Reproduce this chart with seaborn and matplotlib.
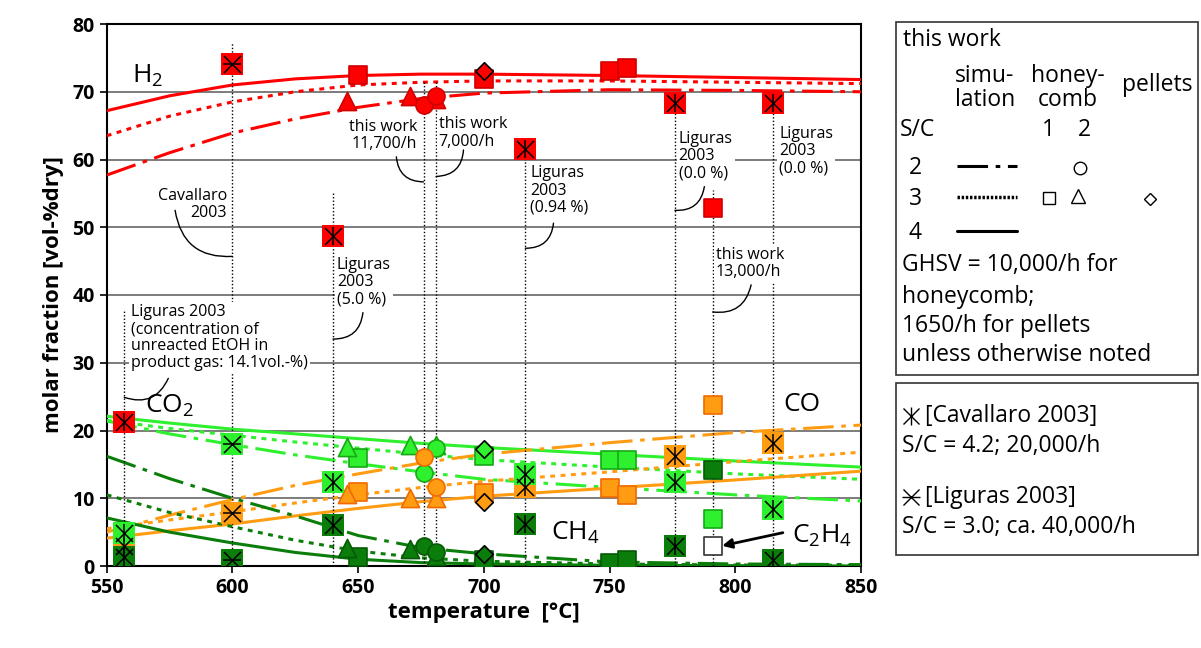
import matplotlib
matplotlib.use('Agg')
import matplotlib.pyplot as plt
import seaborn as sns
from matplotlib.lines import Line2D
from matplotlib.patches import Rectangle

sns.set_theme(style='ticks')
plt.rcParams['font.family'] = ['Open Sans', 'DejaVu Sans']
plt.rcParams['mathtext.default'] = 'regular'
plt.rcParams['text.color'] = 'black'
plt.rcParams['axes.labelcolor'] = 'black'

# --- simulation (this work), S/C = 2, 3, 4 ---
sim_T = [550, 575, 600, 625, 650, 675, 700, 750, 800, 850]
h2_sc2 = [57.7, 61.0, 63.9, 66.0, 67.7, 69.0, 69.8, 70.3, 70.2, 70.0]
h2_sc3 = [63.5, 66.4, 68.5, 70.0, 71.0, 71.4, 71.6, 71.6, 71.4, 71.2]
h2_sc4 = [67.2, 69.4, 71.0, 71.9, 72.4, 72.6, 72.6, 72.4, 72.1, 71.8]
co2_sc2 = [21.4, 19.5, 17.9, 16.4, 15.1, 13.9, 12.8, 11.6, 10.5, 9.6]
co2_sc3 = [21.5, 20.3, 19.3, 18.3, 17.4, 16.5, 15.7, 14.6, 13.6, 12.8]
co2_sc4 = [22.1, 21.1, 20.2, 19.5, 18.8, 18.1, 17.5, 16.5, 15.5, 14.6]
co_sc2 = [5.0, 7.5, 9.8, 11.9, 13.6, 15.2, 16.5, 18.2, 19.7, 20.8]
co_sc3 = [5.5, 6.8, 8.0, 9.3, 10.5, 11.6, 12.5, 13.9, 15.4, 16.8]
co_sc4 = [4.1, 5.2, 6.2, 7.4, 8.5, 9.5, 10.3, 11.5, 12.7, 14.0]
ch4_sc2 = [16.2, 12.9, 10.0, 7.4, 4.5, 2.7, 1.8, 0.6, 0.3, 0.2]
ch4_sc3 = [10.5, 7.9, 5.8, 3.8, 2.2, 1.2, 0.7, 0.3, 0.15, 0.1]
ch4_sc4 = [7.1, 5.0, 3.4, 2.0, 1.0, 0.5, 0.3, 0.1, 0.05, 0.0]

# --- experiments this work ---
# honeycomb 1, S/C 3 (squares)
hc1_T = [650, 700, 750, 757]
hc1_h2 = [72.4, 71.9, 73.0, 73.5]
hc1_co2 = [15.9, 16.2, 15.7, 15.7]
hc1_co = [10.9, 10.8, 11.5, 10.5]
hc1_ch4 = [1.4, 0.9, 0.4, 0.9]
# honeycomb 2, S/C 3 (triangles)
hc2_T = [645.5, 670.5, 681]
hc2_h2 = [68.7, 69.4, 69.0]
hc2_co2 = [17.6, 17.9, 17.9]
hc2_co = [10.6, 10.1, 10.1]
hc2_ch4 = [2.7, 2.5, 1.5]
# honeycomb 2, S/C 2 (circles)
hc2s2_T = [676, 681]
hc2s2_h2 = [68.0, 69.3]
hc2s2_co2 = [13.7, 17.4]
hc2s2_co = [16.1, 11.7]
hc2s2_ch4 = [3.0, 2.1]
# pellets, S/C 3 (diamond)
pel_T = [700]
pel_h2 = [73.1]
pel_co2 = [17.3]
pel_co = [9.5]
pel_ch4 = [1.8]
# honeycomb at 13,000/h
hs_T = [791]
hs_h2 = [52.8]
hs_co2 = [6.9]
hs_co = [23.7]
hs_ch4 = [14.1]
hs_c2h4 = [3.0]

# --- literature ---
cav_T = [600]
cav_h2 = [74.1]
cav_co2 = [18.0]
cav_co = [7.8]
cav_ch4 = [0.9]
lig_T = [557, 640, 716.5, 776, 815]
lig_h2 = [21.3, 48.7, 61.6, 68.4, 68.4]
lig_co2 = [4.8, 12.4, 13.6, 12.4, 8.4]
lig_co_T = [557, 716.5, 776, 815]
lig_co = [3.0, 11.7, 16.3, 18.2]
lig_ch4 = [1.4, 6.1, 6.2, 2.9, 0.9]

RED = '#ff0000'
LGREEN = '#2ef02e'
ORANGE = '#ff9c12'
DGREEN = '#0a7d0a'
edges = {RED: '#d00000', LGREEN: '#16a816', ORANGE: '#f06a00', DGREEN: '#055a05'}

dashdot = (0, (10, 2.5, 1.5, 2.5))
dotted = (0, (1.6, 1.8))

fig = plt.figure(figsize=(12.01, 6.48), dpi=100)
ax = fig.add_axes([106.7 / 1201, 1 - 566 / 648, (861 - 106.7) / 1201, (566 - 24) / 648])

# simulation curves
for col, sc2, sc3, sc4 in [(RED, h2_sc2, h2_sc3, h2_sc4), (LGREEN, co2_sc2, co2_sc3, co2_sc4),
                           (ORANGE, co_sc2, co_sc3, co_sc4), (DGREEN, ch4_sc2, ch4_sc3, ch4_sc4)]:
    sns.lineplot(x=sim_T, y=sc2, color=col, lw=2.2, linestyle=dashdot, ax=ax, zorder=3)
    sns.lineplot(x=sim_T, y=sc3, color=col, lw=2.2, linestyle=dotted, ax=ax, zorder=3)
    sns.lineplot(x=sim_T, y=sc4, color=col, lw=2.2, linestyle='-', ax=ax, zorder=3)

# dotted reference lines to the annotations
vlines = [(557, 37.9), (600, 77.3), (640, 55.4), (676, 71.7), (681, 71.7),
          (716.5, 61.6), (776, 68.4), (791, 55.5), (815, 68.4)]
for xv, top in vlines:
    ax.plot([xv, xv], [0, top], color='black', lw=1, linestyle=(0, (1, 1.5)), zorder=4)


def pts(T, V, marker, col, s, z=6, edge=None, lw=1.2):
    sns.scatterplot(x=T, y=V, marker=marker, s=s, color=col,
                    edgecolor=edge if edge else edges.get(col, 'black'),
                    linewidth=lw, ax=ax, zorder=z, legend=False)


def lit(T, V, col, cross):
    sns.scatterplot(x=T, y=V, marker='s', s=250, color=col, edgecolor='none',
                    linewidth=0, ax=ax, zorder=7, legend=False)
    ax.scatter(T, V, marker='x', s=150, c='black', linewidths=1.1, zorder=8)
    ax.scatter(T, V, marker=cross, s=170, c='black', linewidths=1.1, zorder=8)


# literature markers
lit(lig_co_T, lig_co, ORANGE, '|')
lit(lig_T, lig_co2, LGREEN, '|')
lit(lig_T, lig_ch4, DGREEN, '|')
lit(lig_T, lig_h2, RED, '|')
lit(cav_T, cav_co, ORANGE, '_')
lit(cav_T, cav_co2, LGREEN, '_')
lit(cav_T, cav_ch4, DGREEN, '_')
lit(cav_T, cav_h2, RED, '_')

# this work markers
for col, a, b, c, d, e in [(RED, hc1_h2, hc2_h2, hc2s2_h2, pel_h2, hs_h2),
                           (LGREEN, hc1_co2, hc2_co2, hc2s2_co2, pel_co2, hs_co2),
                           (ORANGE, hc1_co, hc2_co, hc2s2_co, pel_co, hs_co),
                           (DGREEN, hc1_ch4, hc2_ch4, hc2s2_ch4, pel_ch4, hs_ch4)]:
    pts(hc1_T, a, 's', col, 150)
    pts(hs_T, e, 's', col, 150)
    pts(hc2_T, b, '^', col, 170)
    pts(hc2s2_T, c, 'o', col, 150)
    pts(pel_T, d, 'D', col, 80, edge='black')
pts(hs_T, hs_c2h4, 's', 'white', 150, edge='#333333')

ax.set_xlim(550, 850)
ax.set_ylim(0, 80)
ax.set_xticks([550, 600, 650, 700, 750, 800, 850])
ax.set_yticks(range(0, 90, 10))
ax.yaxis.grid(True, color='#666666', lw=1.2)
ax.set_axisbelow(True)
for sp in ax.spines.values():
    sp.set_visible(True)
    sp.set_linewidth(1.5)
    sp.set_color('black')
ax.tick_params(direction='out', length=5, width=1.2, labelsize=14, colors='black')
for lab in ax.get_xticklabels() + ax.get_yticklabels():
    lab.set_fontweight('bold')
ax.set_xlabel('temperature  [°C]', fontsize=16, fontweight='bold', labelpad=3)
ax.set_ylabel('molar fraction [vol-%dry]', fontsize=16, fontweight='bold', labelpad=6)

# species labels
for txt, xv, yv in [('H$_2$', 566.2, 72.3), ('CO$_2$', 575, 23.6), ('CO', 826.4, 23.8),
                    ('CH$_4$', 736.4, 4.9), ('C$_2$H$_4$', 834.5, 4.4)]:
    ax.text(xv, yv, txt, fontsize=19, ha='center', va='center', zorder=9)
ax.annotate('', xy=(793.7, 2.9), xytext=(820, 5.0),
            arrowprops=dict(arrowstyle='-|>', color='black', lw=2, mutation_scale=14), zorder=9)

# annotations
box = dict(facecolor='white', edgecolor='none', pad=1.5)
notes = [
    ('this work\n11,700/h', 673.4, 63.5, 'right'),
    ('this work\n7,000/h', 682, 63.9, 'left'),
    ('Cavallaro\n2003', 597.8, 53.4, 'right'),
    ('Liguras 2003\n(concentration of\nunreacted EtOH in\nproduct gas: 14.1vol.-%)', 559.7, 33.7, 'left'),
    ('Liguras\n2003\n(5.0 %)', 641.5, 41.9, 'left'),
    ('Liguras\n2003\n(0.94 %)', 718.4, 55.4, 'left'),
    ('Liguras\n2003\n(0.0 %)', 777.5, 60.5, 'left'),
    ('Liguras\n2003\n(0.0 %)', 817.5, 61.2, 'left'),
    ('this work\n13,000/h', 792.3, 44.6, 'left'),
]
for txt, xv, yv, ha in notes:
    ax.text(xv, yv, txt, fontsize=11.5, ha=ha, va='center', ma=ha, linespacing=1.1,
            bbox=box, zorder=5)
connectors = [((665.2, 60.4), (676, 56.7), 0.45), ((691.9, 61.4), (681, 57.5), -0.45),
              ((577.2, 52.5), (600, 45.7), 0.45), ((574.5, 27.7), (557, 24.9), -0.45),
              ((651.9, 37.4), (640, 33.5), -0.45), ((727.7, 50.6), (716.5, 46.9), -0.45),
              ((787.7, 56.0), (776, 52.5), -0.45), ((806.3, 41.5), (791, 37.5), -0.45)]
for start, end, rad in connectors:
    ax.annotate('', xy=end, xytext=start, zorder=5,
                arrowprops=dict(arrowstyle='-', color='black', lw=1,
                                connectionstyle=f'arc3,rad={rad}', shrinkA=0, shrinkB=0))


# legend boxes (figure pixels)
def fx(px):
    return px / 1201


def fy(py):
    return 1 - py / 648


fig.add_artist(Rectangle((fx(896), fy(375)), fx(1198) - fx(896), fy(22) - fy(375),
                         transform=fig.transFigure, fill=False, edgecolor='#333333', lw=1.2))
fig.add_artist(Rectangle((fx(896), fy(555)), fx(1198) - fx(896), fy(383) - fy(555),
                         transform=fig.transFigure, fill=False, edgecolor='#333333', lw=1.2))

LS = 16.5
fig.text(fx(903), fy(40), 'this work', fontsize=LS, va='center')
fig.text(fx(985), fy(88), 'simu-\nlation', fontsize=LS, va='center', ha='center', linespacing=1.0)
fig.text(fx(1068), fy(88), 'honey-\ncomb', fontsize=LS, va='center', ha='center', linespacing=1.0)
fig.text(fx(1157), fy(85), 'pellets', fontsize=LS, va='center', ha='center')
fig.text(fx(900), fy(130), 'S/C', fontsize=LS, va='center')
fig.text(fx(1048), fy(130), '1', fontsize=LS, va='center', ha='center')
fig.text(fx(1084), fy(130), '2', fontsize=LS, va='center', ha='center')
for lab, yy, ls in [('2', 168, dashdot), ('3', 199, dotted), ('4', 233, '-')]:
    fig.text(fx(915), fy(yy), lab, fontsize=LS, va='center', ha='center')
    fig.add_artist(Line2D([fx(957), fx(1017)], [fy(yy - 2), fy(yy - 2)], color='black',
                          lw=2.2 if ls != dotted else 2.5, linestyle=ls if ls != dotted else (0, (0.7, 0.5)),
                          transform=fig.transFigure))
for mk, xx, yy, ms in [('o', 1080, 168, 9), ('s', 1049, 198, 8.5), ('^', 1078, 196, 10), ('D', 1150, 199, 6)]:
    fig.add_artist(Line2D([fx(xx)], [fy(yy)], marker=mk, markersize=ms, markerfacecolor='white',
                          markeredgecolor='black', markeredgewidth=1, linestyle='none',
                          transform=fig.transFigure))
for txt, yy in [('GHSV = 10,000/h for', 265), ('honeycomb;', 297), ('1650/h for pellets', 326),
                ('unless otherwise noted', 355)]:
    fig.text(fx(902), fy(yy), txt, fontsize=LS, va='center')

for cross, yy, t1, t2 in [('|', 416, '[Cavallaro 2003]', 'S/C = 4.2; 20,000/h'),
                          ('_', 497, '[Liguras 2003]', 'S/C = 3.0; ca. 40,000/h')]:
    fig.add_artist(Line2D([fx(911)], [fy(yy)], marker='x', markersize=12, markeredgecolor='black',
                          markeredgewidth=1, linestyle='none', transform=fig.transFigure))
    fig.add_artist(Line2D([fx(911)], [fy(yy)], marker=cross, markersize=13, markeredgecolor='black',
                          markeredgewidth=1, linestyle='none', transform=fig.transFigure))
    fig.text(fx(925), fy(yy), t1, fontsize=LS, va='center')
    fig.text(fx(902), fy(yy + 30), t2, fontsize=LS, va='center')

fig.savefig('out.png', dpi=100)
